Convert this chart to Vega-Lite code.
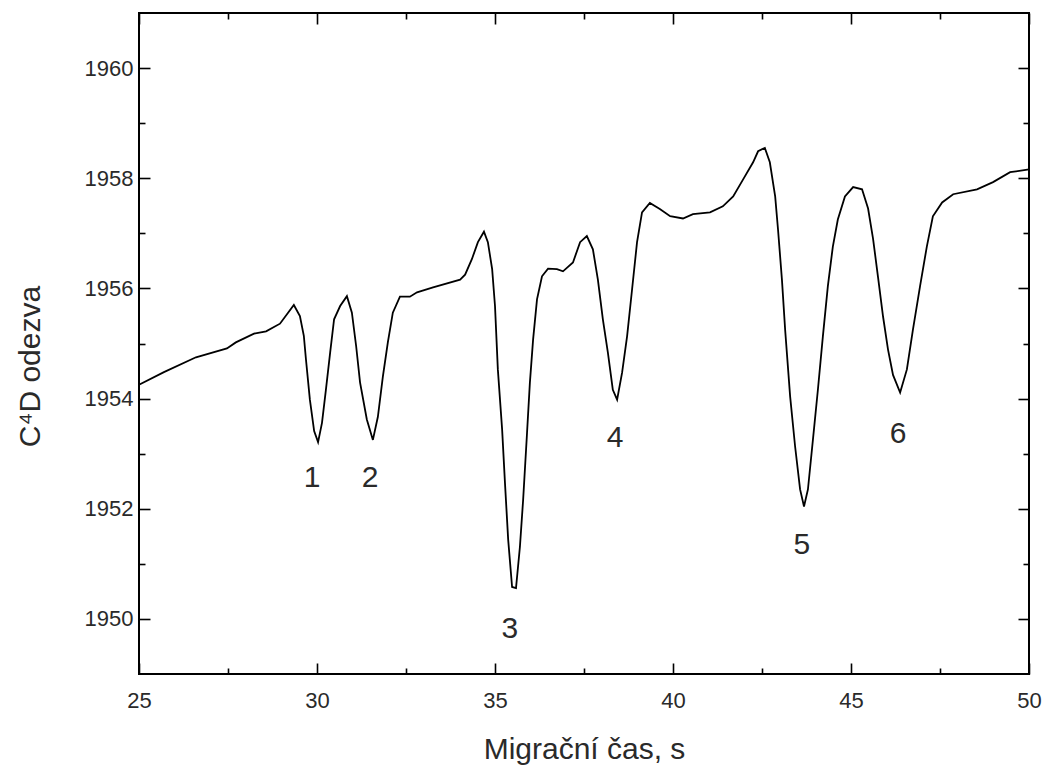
{
  "$schema": "https://vega.github.io/schema/vega-lite/v6.json",
  "width": 890,
  "height": 661,
  "autosize": {"type": "none"},
  "padding": {"left": 139, "top": 13, "right": 14, "bottom": 91},
  "background": "white",
  "config": {
    "view": {"stroke": "black", "strokeWidth": 2},
    "axis": {
      "domain": false,
      "grid": false,
      "tickColor": "black",
      "tickWidth": 1.6,
      "labelFont": "Liberation Sans",
      "labelFontSize": 22,
      "labelColor": "#2a2a2a",
      "labelFlush": false,
      "titleFont": "Liberation Sans",
      "titleFontWeight": "normal",
      "titleFontSize": 30,
      "titleColor": "#2a2a2a"
    }
  },
  "datasets": {
    "signal": [
      {"t": 25.00, "v": 1954.25}, {"t": 25.70, "v": 1954.48}, {"t": 26.60, "v": 1954.75},
      {"t": 27.47, "v": 1954.91}, {"t": 27.72, "v": 1955.02}, {"t": 28.23, "v": 1955.18},
      {"t": 28.57, "v": 1955.22}, {"t": 28.96, "v": 1955.36}, {"t": 29.35, "v": 1955.70},
      {"t": 29.52, "v": 1955.50}, {"t": 29.63, "v": 1955.14}, {"t": 29.69, "v": 1954.71},
      {"t": 29.80, "v": 1953.98}, {"t": 29.92, "v": 1953.41}, {"t": 30.03, "v": 1953.21},
      {"t": 30.14, "v": 1953.56}, {"t": 30.25, "v": 1954.16}, {"t": 30.37, "v": 1954.84},
      {"t": 30.48, "v": 1955.44}, {"t": 30.65, "v": 1955.68}, {"t": 30.84, "v": 1955.86},
      {"t": 30.98, "v": 1955.56}, {"t": 31.10, "v": 1954.95}, {"t": 31.21, "v": 1954.29},
      {"t": 31.40, "v": 1953.62}, {"t": 31.57, "v": 1953.25}, {"t": 31.71, "v": 1953.67},
      {"t": 31.85, "v": 1954.40}, {"t": 31.99, "v": 1955.02}, {"t": 32.13, "v": 1955.56},
      {"t": 32.33, "v": 1955.85}, {"t": 32.61, "v": 1955.85}, {"t": 32.81, "v": 1955.93},
      {"t": 33.26, "v": 1956.02}, {"t": 34.02, "v": 1956.16}, {"t": 34.16, "v": 1956.25},
      {"t": 34.35, "v": 1956.53}, {"t": 34.52, "v": 1956.84}, {"t": 34.69, "v": 1957.03},
      {"t": 34.80, "v": 1956.84}, {"t": 34.92, "v": 1956.35}, {"t": 35.00, "v": 1955.68},
      {"t": 35.08, "v": 1954.53}, {"t": 35.20, "v": 1953.44}, {"t": 35.28, "v": 1952.47},
      {"t": 35.37, "v": 1951.44}, {"t": 35.48, "v": 1950.58}, {"t": 35.59, "v": 1950.56},
      {"t": 35.70, "v": 1951.31}, {"t": 35.79, "v": 1952.16}, {"t": 35.90, "v": 1953.38},
      {"t": 35.98, "v": 1954.29}, {"t": 36.07, "v": 1955.07}, {"t": 36.18, "v": 1955.80},
      {"t": 36.32, "v": 1956.22}, {"t": 36.49, "v": 1956.36}, {"t": 36.74, "v": 1956.35},
      {"t": 36.91, "v": 1956.31}, {"t": 37.19, "v": 1956.47}, {"t": 37.39, "v": 1956.84},
      {"t": 37.58, "v": 1956.95}, {"t": 37.75, "v": 1956.71}, {"t": 37.89, "v": 1956.16},
      {"t": 38.03, "v": 1955.44}, {"t": 38.17, "v": 1954.84}, {"t": 38.31, "v": 1954.16},
      {"t": 38.43, "v": 1953.98}, {"t": 38.57, "v": 1954.47}, {"t": 38.71, "v": 1955.13},
      {"t": 38.85, "v": 1955.98}, {"t": 38.99, "v": 1956.84}, {"t": 39.13, "v": 1957.38},
      {"t": 39.35, "v": 1957.55}, {"t": 39.63, "v": 1957.44}, {"t": 39.92, "v": 1957.31},
      {"t": 40.28, "v": 1957.27}, {"t": 40.56, "v": 1957.35}, {"t": 41.04, "v": 1957.38},
      {"t": 41.40, "v": 1957.49}, {"t": 41.69, "v": 1957.67}, {"t": 41.97, "v": 1957.98},
      {"t": 42.25, "v": 1958.29}, {"t": 42.39, "v": 1958.49}, {"t": 42.58, "v": 1958.55},
      {"t": 42.72, "v": 1958.29}, {"t": 42.87, "v": 1957.67}, {"t": 42.95, "v": 1957.07},
      {"t": 43.06, "v": 1956.16}, {"t": 43.15, "v": 1955.25}, {"t": 43.29, "v": 1954.04},
      {"t": 43.43, "v": 1953.13}, {"t": 43.57, "v": 1952.35}, {"t": 43.68, "v": 1952.04},
      {"t": 43.79, "v": 1952.35}, {"t": 43.93, "v": 1953.25}, {"t": 44.07, "v": 1954.16},
      {"t": 44.21, "v": 1955.13}, {"t": 44.35, "v": 1956.04}, {"t": 44.49, "v": 1956.76},
      {"t": 44.63, "v": 1957.25}, {"t": 44.83, "v": 1957.67}, {"t": 45.06, "v": 1957.84},
      {"t": 45.31, "v": 1957.80}, {"t": 45.48, "v": 1957.45}, {"t": 45.62, "v": 1956.90},
      {"t": 45.76, "v": 1956.20}, {"t": 45.90, "v": 1955.49}, {"t": 46.04, "v": 1954.89},
      {"t": 46.18, "v": 1954.43}, {"t": 46.38, "v": 1954.11}, {"t": 46.57, "v": 1954.53},
      {"t": 46.74, "v": 1955.25}, {"t": 46.94, "v": 1956.04}, {"t": 47.13, "v": 1956.76},
      {"t": 47.30, "v": 1957.31}, {"t": 47.56, "v": 1957.56}, {"t": 47.87, "v": 1957.71},
      {"t": 48.54, "v": 1957.80}, {"t": 48.99, "v": 1957.93}, {"t": 49.47, "v": 1958.11},
      {"t": 50.00, "v": 1958.16}
    ],
    "peaks": [
      {"t": 29.86, "v": 1952.56, "label": "1"},
      {"t": 31.49, "v": 1952.56, "label": "2"},
      {"t": 35.42, "v": 1949.82, "label": "3"},
      {"t": 38.37, "v": 1953.29, "label": "4"},
      {"t": 43.62, "v": 1951.35, "label": "5"},
      {"t": 46.32, "v": 1953.35, "label": "6"}
    ]
  },
  "layer": [
    {
      "data": {"name": "signal"},
      "mark": {"type": "line", "color": "black", "strokeWidth": 1.8},
      "encoding": {
        "x": {
          "field": "t", "type": "quantitative",
          "scale": {"domain": [25, 50], "nice": false, "zero": false},
          "axis": {
            "orient": "bottom",
            "values": [25, 27.5, 30, 32.5, 35, 37.5, 40, 42.5, 45, 47.5, 50],
            "format": "d",
            "labelExpr": "datum.value % 5 === 0 ? datum.label : ''",
            "tickSize": {"condition": {"test": "datum.value % 5 === 0", "value": -11}, "value": -6},
            "labelPadding": 27,
            "title": "Migrační čas, s",
            "titleY": 84,
            "titleBaseline": "alphabetic"
          }
        },
        "y": {
          "field": "v", "type": "quantitative",
          "scale": {"domain": [1949, 1961], "nice": false, "zero": false},
          "axis": {
            "orient": "left",
            "values": [1950, 1951, 1952, 1953, 1954, 1955, 1956, 1957, 1958, 1959, 1960],
            "format": "d",
            "labelExpr": "datum.value % 2 === 0 ? datum.label : ''",
            "tickSize": {"condition": {"test": "datum.value % 2 === 0", "value": -11}, "value": -6},
            "labelPadding": 17,
            "title": "C⁴D odezva",
            "titleX": -109,
            "titleY": 353,
            "titleAngle": -90,
            "titleBaseline": "middle",
            "titleAlign": "center"
          }
        }
      }
    },
    {
      "data": {"name": "peaks"},
      "mark": {"type": "text", "font": "Liberation Sans", "fontSize": 30, "color": "#2a2a2a", "align": "center", "baseline": "middle"},
      "encoding": {
        "x": {
          "field": "t", "type": "quantitative",
          "scale": {"domain": [25, 50], "nice": false, "zero": false},
          "axis": {
            "orient": "top",
            "values": [25, 27.5, 30, 32.5, 35, 37.5, 40, 42.5, 45, 47.5, 50],
            "labels": false,
            "tickSize": {"condition": {"test": "datum.value % 5 === 0", "value": -11}, "value": -6},
            "title": null
          }
        },
        "y": {
          "field": "v", "type": "quantitative",
          "scale": {"domain": [1949, 1961], "nice": false, "zero": false},
          "axis": {
            "orient": "right",
            "values": [1950, 1951, 1952, 1953, 1954, 1955, 1956, 1957, 1958, 1959, 1960],
            "labels": false,
            "tickSize": {"condition": {"test": "datum.value % 2 === 0", "value": -11}, "value": -6},
            "title": null
          }
        },
        "text": {"field": "label"}
      }
    }
  ],
  "resolve": {"axis": {"x": "independent", "y": "independent"}}
}
